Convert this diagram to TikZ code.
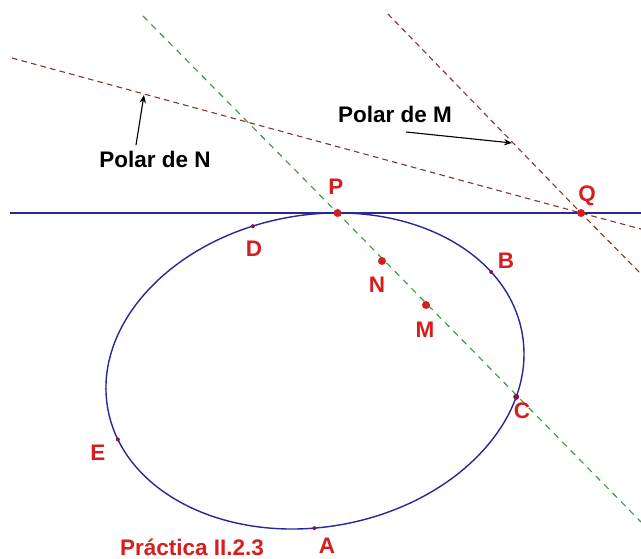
\documentclass[tikz,border=0pt]{standalone}
\usepackage{fontspec}
\setmainfont{Liberation Sans}
\usetikzlibrary{arrows.meta}
\definecolor{conica}{RGB}{40,40,150}
\definecolor{polarcol}{RGB}{140,50,50}
\definecolor{verde}{RGB}{60,150,60}
\definecolor{rojo}{RGB}{215,30,30}
\definecolor{morado}{RGB}{130,20,80}
\tikzset{
	polardash/.style={polarcol, line width=0.8pt, dashed, dash pattern=on 4pt off 3pt},
	verdedash/.style={verde, line width=0.8pt, dashed, dash pattern=on 4.5pt off 4pt},
	bigpt/.style={circle, fill=rojo, inner sep=0pt, minimum size=0.2cm},
	smallpt/.style={circle, fill=morado, inner sep=0pt, minimum size=0.1cm},
	lbl/.style={rojo, anchor=base, font=\bfseries\fontsize{16}{19}\selectfont},
	txt/.style={black, anchor=base, font=\bfseries\fontsize{16}{19}\selectfont},
	flecha/.style={-{Stealth[length=2mm, width=1.6mm]}, line width=0.8pt}
}

\begin{document}
\begin{tikzpicture}[x=0.025cm, y=-0.025cm]
		\useasboundingbox (0,0) rectangle (641,559);
		
		% conica: elipse algo girada
		\coordinate (O) at (315,371);
		\begin{scope}[shift={(O)}, rotate=10.5]
			\coordinate (P) at (-76:210.6 and 155.9);
			\coordinate (D) at (-99.5:210.6 and 155.9);
			\coordinate (B) at (-24.7:210.6 and 155.9);
			\coordinate (C) at (23.5:210.6 and 155.9);
			\coordinate (E) at (168.4:210.6 and 155.9);
			\coordinate (A) at (98:210.6 and 155.9);
		\end{scope}
		\coordinate (Q) at (581,213);
		\coordinate (N) at (382,261);
		\coordinate (M) at (426,305);
		
		% extremos de las rectas
		\coordinate (T1) at (10,213);
		\coordinate (T2) at (641,213);
		\coordinate (PN1) at (12,58);
		\coordinate (PN2) at (641,229);
		\coordinate (PM1) at (388,14);
		\coordinate (PM2) at (641,274);
		\coordinate (V1) at (143,16);
		\coordinate (V2) at (641,522);
		
		\draw[polardash] (PN1) -- (Q) -- (PN2);
		\draw[polardash] (PM1) -- (Q) -- (PM2);
		\draw[verdedash] (V1) -- (P) -- (V2);
		\draw[conica, line width=1pt] (T1) -- (T2);
		\draw[conica, line width=1pt, rotate around={10.5:(O)}] (O) ellipse [x radius=210.6, y radius=155.9];
		
		% textos y flechas
		\node[txt] (polarN) at (155,167) {Polar de N};
		\node[txt] (polarM) at (395,122) {Polar de M};
		\coordinate (fN1) at (136,145);
		\coordinate (fN2) at (144,95);
		\coordinate (fM1) at (406,132);
		\coordinate (fM2) at (512,143);
		\draw[flecha] (fN1) -- (fN2);
		\draw[flecha] (fM1) -- (fM2);
		
		% puntos
		\foreach \p in {P,Q,N,M}
			\node[bigpt] at (\p) {};
		\foreach \p in {D,B,E,A}
			\node[smallpt] at (\p) {};
		\node[smallpt, minimum size=0.15cm] at (C) {};
		
		\node[lbl] (lP) at (336,194) {P};
		\node[lbl] (lQ) at (587,201) {Q};
		\node[lbl] (lD) at (254,256) {D};
		\node[lbl] (lB) at (506,268) {B};
		\node[lbl] (lN) at (377,292) {N};
		\node[lbl] (lM) at (425,337) {M};
		\node[lbl] (lC) at (522,418) {C};
		\node[lbl] (lE) at (98,460) {E};
		\node[lbl] (lA) at (327,553) {A};
		\node[lbl] (titulo) at (192,555) {Práctica II.2.3};
	\end{tikzpicture}
\end{document}
